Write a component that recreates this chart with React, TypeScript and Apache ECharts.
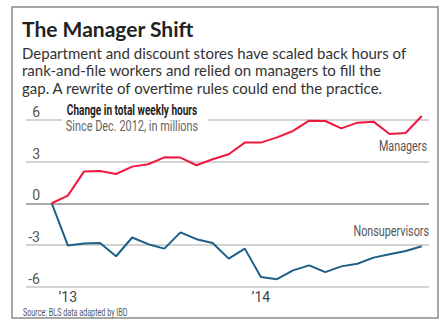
import React, { useEffect, useRef } from "react";
import * as echarts from "echarts";

const months = [
  "Dec 12", "Jan 13", "Feb 13", "Mar 13", "Apr 13", "May 13", "Jun 13", "Jul 13",
  "Aug 13", "Sep 13", "Oct 13", "Nov 13", "Dec 13", "Jan 14", "Feb 14", "Mar 14",
  "Apr 14", "May 14", "Jun 14", "Jul 14", "Aug 14", "Sep 14", "Oct 14", "Nov 14",
];
const managers = [
  0, 0.55, 2.28, 2.33, 2.11, 2.64, 2.81, 3.31, 3.29, 2.74, 3.17, 3.53,
  4.37, 4.37, 4.75, 5.21, 5.95, 5.93, 5.4, 5.81, 5.88, 4.99, 5.06, 6.29,
];
const nonsupervisors = [
  0, -3.04, -2.9, -2.86, -3.82, -2.47, -2.95, -3.27, -2.1, -2.59, -2.86, -3.99,
  -3.27, -5.32, -5.47, -4.84, -4.48, -4.96, -4.55, -4.36, -3.92, -3.68, -3.44, -3.1,
];
const xTickMonths = ["Jan 13", "Jan 14"];
const xTickLabels = ["\u201913", "\u201914"];
const yTicks = [-6, -3, 0, 3, 6];

const COND = "Roboto, sans-serif";

export default function App() {
  const ref = useRef<HTMLDivElement>(null);
  useEffect(() => {
    if (!ref.current) return;
    const chart = echarts.init(ref.current, null, { renderer: "svg" });
    const tickIdx = xTickMonths.map((m) => months.indexOf(m));
    const option = {
      animation: false,
      backgroundColor: "#ffffff",
      grid: { left: 26, right: 19, top: 120, bottom: 39.5, containLabel: false },
      xAxis: {
        type: "value",
        min: -1.6,
        max: 23.45,
        axisLine: { show: false },
        axisTick: { show: false },
        splitLine: { show: false },
        axisLabel: {
          customValues: tickIdx,
          margin: 3,
          fontSize: 14,
          color: "#444",
          fontFamily: "Roboto, sans-serif",
          formatter: (v: number) => xTickLabels[tickIdx.indexOf(Math.round(v))] ?? "",
        },
      },
      yAxis: {
        type: "value",
        min: yTicks[0],
        max: yTicks[yTicks.length - 1],
        interval: 3,
        axisLine: { show: false },
        axisTick: { show: false },
        axisLabel: {
          inside: true,
          margin: 14,
          align: "right",
          verticalAlign: "bottom",
          padding: [0, 0, 1, 0],
          fontSize: 14,
          color: "#555",
          fontFamily: "Roboto, sans-serif",
        },
        splitLine: {
          show: true,
          lineStyle: { color: ["#c4c4c4", "#c4c4c4", "#8e8e8e", "#c4c4c4", "#c4c4c4"], width: 1.5 },
        },
      },
      series: [
        {
          name: "Managers",
          type: "line",
          clip: false,
          symbol: "none",
          data: managers.map((v, i) => [i, v]),
          lineStyle: { color: "#f0183f", width: 2 },
          z: 3,
        },
        {
          name: "Nonsupervisors",
          type: "line",
          clip: false,
          symbol: "none",
          data: nonsupervisors.map((v, i) => [i, v]),
          lineStyle: { color: "#1d5f86", width: 2 },
          z: 2,
        },
      ],
      graphic: [
        {
          type: "rect",
          shape: { x: 12, y: 7, width: 426, height: 311 },
          style: { fill: "none", stroke: "#8a8a8a", lineWidth: 1.5 },
          silent: true,
        },
        {
          type: "text",
          x: 22,
          y: 18,
          style: {
            text: "The Manager Shift",
            font: "bold 21px Lato, sans-serif",
            fill: "#222",
          },
        },
        {
          type: "text",
          x: 22,
          y: 44,
          style: {
            text:
              "Department and discount stores have scaled back hours of\nrank-and-file workers and relied on managers to fill the\ngap. A rewrite of overtime rules could end the practice.",
            font: "15px Lato, sans-serif",
            lineHeight: 17.5,
            fill: "#333",
          },
        },
        {
          type: "rect",
          shape: { x: 62, y: 100, width: 146, height: 34 },
          style: { fill: "#ffffff" },
          z: 10,
        },
        {
          type: "text",
          x: 132,
          y: 110,
          z: 11,
          scaleX: 0.72,
          style: {
            text: "Change in total weekly hours",
            font: "bold 14px " + COND,
            fill: "#222",
            align: "center",
            verticalAlign: "middle",
          },
        },
        {
          type: "text",
          x: 132,
          y: 126,
          z: 11,
          scaleX: 0.78,
          style: {
            text: "Since Dec. 2012, in millions",
            font: "14px " + COND,
            fill: "#666",
            align: "center",
            verticalAlign: "middle",
          },
        },
        {
          type: "text",
          x: 427,
          y: 146,
          z: 11,
          scaleX: 0.77,
          style: {
            text: "Managers",
            font: "14px " + COND,
            fill: "#555",
            align: "right",
            verticalAlign: "middle",
          },
        },
        {
          type: "text",
          x: 429,
          y: 231,
          z: 11,
          scaleX: 0.77,
          style: {
            text: "Nonsupervisors",
            font: "14px " + COND,
            fill: "#555",
            align: "right",
            verticalAlign: "middle",
          },
        },
        {
          type: "text",
          x: 23,
          y: 313,
          scaleX: 0.72,
          style: {
            text: "Source: BLS data adapted by IBD",
            font: "10px " + COND,
            fill: "#555",
            verticalAlign: "middle",
          },
        },
      ],
    };
    chart.setOption(option as any);
    return () => chart.dispose();
  }, []);
  return (
    <div
      ref={ref}
      style={{ position: "fixed", left: 0, top: 0, width: 448, height: 326, background: "#fff" }}
    />
  );
}
